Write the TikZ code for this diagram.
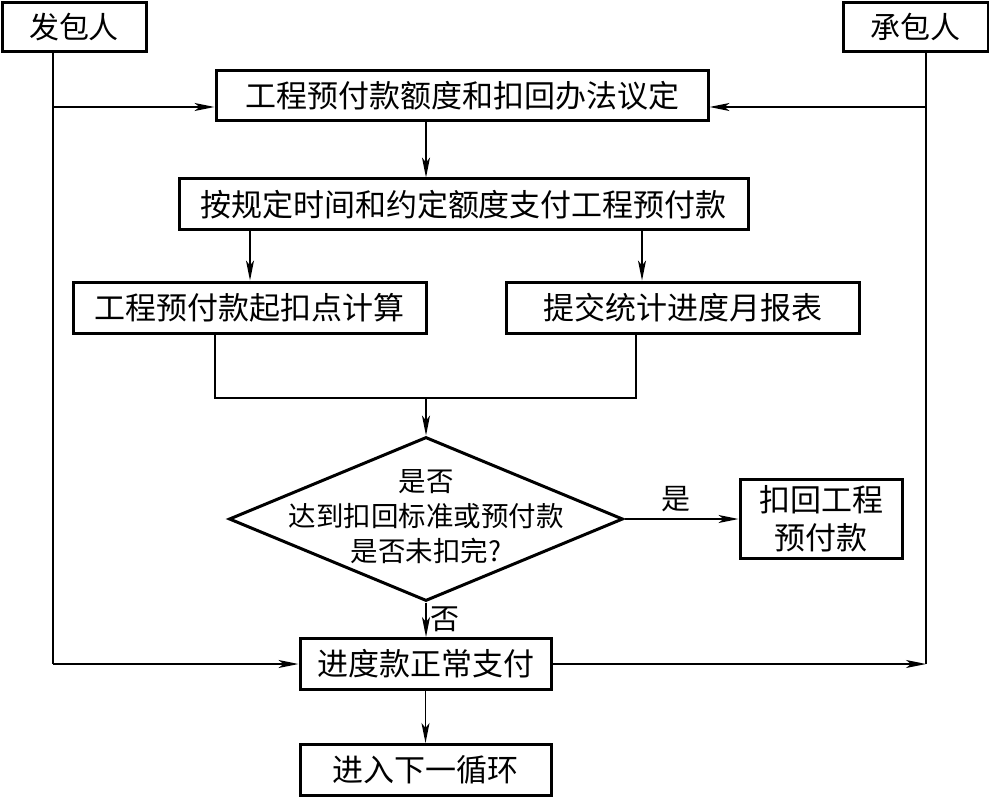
\documentclass[tikz,border=0pt]{standalone}
\usepackage{fontspec}
\setmainfont{Noto Sans CJK SC}
\usetikzlibrary{arrows.meta,shapes.geometric}
\tikzset{
  boxnode/.style={draw,line width=3pt,inner sep=0pt,font=\fontsize{31}{36}\selectfont},
  conn/.style={line width=1.5pt},
  arr/.style={conn,-{Stealth[length=20pt,width=8pt,inset=5pt]}},
  lbl/.style={font=\fontsize{29}{32}\selectfont,inner sep=0pt}
}
\begin{document}
\begin{tikzpicture}[x=1pt,y=-1pt]
\useasboundingbox (0,0) rectangle (989,797);
\node[boxnode,minimum width=144pt,minimum height=49pt,font=\fontsize{30}{34}\selectfont] (fa) at (74,27) {发包人};
\node[boxnode,minimum width=145pt,minimum height=49pt,font=\fontsize{30}{34}\selectfont] (cheng) at (915.5,27) {承包人};
\node[boxnode,minimum width=492pt,minimum height=50pt] (b1) at (462,96) {工程预付款额度和扣回办法议定};
\node[boxnode,minimum width=569pt,minimum height=51pt] (b2) at (463.5,204.5) {按规定时间和约定额度支付工程预付款};
\node[boxnode,minimum width=353pt,minimum height=51pt] (b3) at (249.5,307.5) {工程预付款起扣点计算};
\node[boxnode,minimum width=353pt,minimum height=51pt] (b4) at (682.5,307.5) {提交统计进度月报表};
\node[diamond,draw,line width=3pt,inner sep=0pt,minimum width=394pt,minimum height=164pt] (dia) at (426,519) {};
\node[align=center,inner sep=0pt,font=\fontsize{27.5}{35}\selectfont] (diat) at (426,517) {是否\\达到扣回标准或预付款\\是否未扣完?};
\node[boxnode,minimum width=162pt,minimum height=79pt,align=center,font=\fontsize{31}{38}\selectfont] (kh) at (821,519) {扣回工程\\预付款};
\node[boxnode,minimum width=251pt,minimum height=51pt] (jd) at (425.5,664) {进度款正常支付};
\node[boxnode,minimum width=251pt,minimum height=51pt] (xy) at (425.5,770) {进入下一循环};
% side lines
\coordinate (lt) at (53,51.5);
\coordinate (lm) at (53,107);
\coordinate (lb) at (53,664);
\coordinate (rt) at (926,51.5);
\coordinate (rm) at (926,107);
\coordinate (rb) at (926,664);
\draw[conn] (lt) -- (lb);
\draw[conn] (rt) -- (rb);
\draw[arr] (lm) -- (lm -| b1.west);
\draw[arr] (rm) -- (rm -| b1.east);
% main flow
\coordinate (c12) at (426,96);
\draw[arr] (c12 |- b1.south) -- (c12 |- b2.north);
\coordinate (c23) at (250,204);
\coordinate (c24) at (642,204);
\draw[arr] (c23 |- b2.south) -- (c23 |- b3.north);
\draw[arr] (c24 |- b2.south) -- (c24 |- b4.north);
\coordinate (m3) at (215,398);
\coordinate (m4) at (636,398);
\coordinate (mm) at (426,398);
\draw[conn] (m3 |- b3.south) -- (m3) -- (m4) -- (m4 |- b4.south);
\draw[arr] (mm) -- (dia.north);
\draw[arr] (dia.east) -- (kh.west) node[lbl,pos=0.45,above=6pt] {是};
\draw[arr] (dia.south) -- (dia.south |- jd.north) node[lbl,pos=0.5,right=4pt] {否};
\draw[arr] (lb) -- (jd.west);
\draw[arr] (jd.east) -- (rb);
\draw[arr] (jd.south) -- (xy.north);
\end{tikzpicture}
\end{document}
